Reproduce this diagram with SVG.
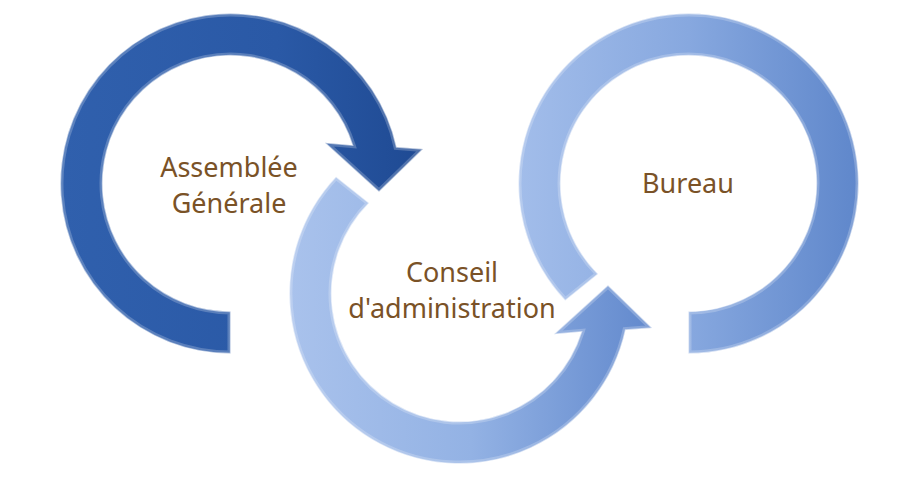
<svg xmlns="http://www.w3.org/2000/svg" width="918" height="480" viewBox="0 0 918 480">
<defs>
<linearGradient id="g1" x1="0" y1="0" x2="1" y2="0">
<stop offset="0" stop-color="#3060ad"/>
<stop offset="0.6" stop-color="#2a59a6"/>
<stop offset="1" stop-color="#1f4a93"/>
</linearGradient>
<linearGradient id="g2" x1="0" y1="0" x2="1" y2="0">
<stop offset="0" stop-color="#a9c2ec"/>
<stop offset="0.5" stop-color="#93b2e4"/>
<stop offset="1" stop-color="#6289cd"/>
</linearGradient>
<linearGradient id="g3" x1="0" y1="0" x2="1" y2="0">
<stop offset="0" stop-color="#a2bdea"/>
<stop offset="0.5" stop-color="#87a8df"/>
<stop offset="1" stop-color="#5f87cb"/>
</linearGradient>
<path id="p1" d="M230.5,311.5 L230.5,353.5 A170,170 0 1 1 396.5,147 L423,149 L379,191.7 L325,142.7 L352.6,145.2 A128,128 0 1 0 230.5,311.5 Z"/>
<path id="p2" d="M369,203 L336,176.7 A170,170 0 1 0 625.5,330 L652,328 L608,285.3 L554,334.3 L581.6,331.8 A128,128 0 1 1 369,203 Z"/>
<path id="p3" d="M598,274 L565.2,300.5 A170,170 0 1 1 688.5,353.5 L688.5,311.5 A128,128 0 1 0 598,274 Z"/>
<clipPath id="c1"><use href="#p1"/></clipPath>
<clipPath id="c2"><use href="#p2"/></clipPath>
<clipPath id="c3"><use href="#p3"/></clipPath>
<style>
.ring{stroke:#ffffff;stroke-opacity:0.55;stroke-width:1.4;stroke-linejoin:miter}
.bevel{fill:none;stroke:#ffffff;stroke-opacity:0.22;stroke-width:6}
.lbl{font-family:"Noto Sans","Open Sans","Liberation Sans",sans-serif;font-size:27px;fill:#7a5227;text-anchor:middle}
</style>
</defs>
<rect width="918" height="480" fill="#ffffff"/>
<g id="connectors"/>
<g id="node-bureau">
<use href="#p3" class="ring" fill="url(#g3)"/>
<use href="#p3" class="bevel" clip-path="url(#c3)"/>
<text class="lbl" x="688" y="193">Bureau</text>
</g>
<g id="node-conseil">
<use href="#p2" class="ring" fill="url(#g2)"/>
<use href="#p2" class="bevel" clip-path="url(#c2)"/>
<text class="lbl" x="452" y="282">Conseil</text>
<text class="lbl" x="452" y="318">d'administration</text>
</g>
<g id="node-assemblee">
<use href="#p1" class="ring" fill="url(#g1)"/>
<use href="#p1" class="bevel" clip-path="url(#c1)"/>
<text class="lbl" x="229" y="177">Assemblée</text>
<text class="lbl" x="229" y="213">Générale</text>
</g>
</svg>
